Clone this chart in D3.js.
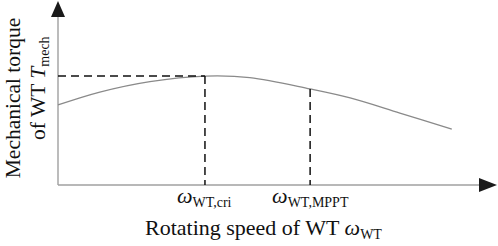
<!DOCTYPE html>
<html>
<head>
<meta charset="utf-8">
<script src="https://cdn.jsdelivr.net/npm/d3@7"></script>
<style>
  html, body { margin: 0; padding: 0; background: #fff; }
  svg { display: block; }
</style>
</head>
<body>
<div id="chart"></div>
<script>
// torque-speed curve of the wind turbine (relative units)
const speed = [0, 9.5, 20.9, 33.4, 43.6, 57.3, 66.4, 77.7, 89.5];
const torque = [43.5, 50.5, 56.2, 59.2, 58.4, 52.2, 47.3, 39.1, 30.4];

// marked operating points
const markNames = ['cri', 'MPPT'];
const markSpeed = [33.4, 57.3];
const markTorque = [59.2, 52.2];

const width = 498, height = 246;
const x0 = 58, yAxis = 185;
const serif = '"Liberation Serif", serif';

const svg = d3.select('#chart').append('svg')
  .attr('width', width)
  .attr('height', height);

const x = d3.scaleLinear().domain([0, 100]).range([x0, 498]);
const y = d3.scaleLinear().domain([0, 100]).range([yAxis, 1]);

// axes with arrow heads
svg.append('line')
  .attr('x1', x0).attr('x2', 484).attr('y1', yAxis).attr('y2', yAxis)
  .attr('stroke', '#a0a0a0').attr('stroke-width', 1.4);
svg.append('line')
  .attr('x1', x0).attr('x2', x0).attr('y1', yAxis).attr('y2', 12)
  .attr('stroke', '#a0a0a0').attr('stroke-width', 1.4);
svg.append('path')
  .attr('d', `M479,178 L497,${yAxis} L479,192 Z`)
  .attr('fill', '#1a1a1a');
svg.append('path')
  .attr('d', `M51,17 L${x0},1 L65,17 Z`)
  .attr('fill', '#1a1a1a');

// curve
const pts = speed.map((s, i) => [s, torque[i]]);
svg.append('path')
  .datum(pts)
  .attr('d', d3.line().x(d => x(d[0])).y(d => y(d[1])).curve(d3.curveCatmullRom))
  .attr('fill', 'none')
  .attr('stroke', '#8a8a8a')
  .attr('stroke-width', 1.3);

// dashed guides
svg.append('line')
  .attr('x1', x0).attr('x2', x(markSpeed[0]))
  .attr('y1', y(markTorque[0])).attr('y2', y(markTorque[0]))
  .attr('stroke', '#111').attr('stroke-width', 1.5).attr('stroke-dasharray', '8,5');
markSpeed.forEach((s, i) => {
  svg.append('line')
    .attr('x1', x(s)).attr('x2', x(s))
    .attr('y1', y(markTorque[i])).attr('y2', yAxis)
    .attr('stroke', '#111').attr('stroke-width', 1.5).attr('stroke-dasharray', '8,5');
});

// helper: text with serif font
function txt(sel) {
  return sel.append('text').style('font-family', serif).attr('fill', '#111');
}

// tick labels
const labDx = [-28, -38];
markNames.forEach((n, i) => {
  const t = txt(svg).attr('x', x(markSpeed[i]) + labDx[i]).attr('y', 203);
  t.append('tspan').style('font-style', 'italic').style('font-size', '22px').text('ω');
  t.append('tspan').style('font-size', '14px').attr('dy', 4).text('WT,' + n);
});

// x title
const xt = txt(svg).attr('x', 145).attr('y', 235);
xt.append('tspan').style('font-size', '22px').text('Rotating speed of WT ');
xt.append('tspan').style('font-size', '22px').style('font-style', 'italic').text('ω');
xt.append('tspan').style('font-size', '14px').attr('dy', 4).text('WT');

// y title, two lines rotated
txt(svg)
  .attr('transform', 'translate(20,98) rotate(-90)')
  .attr('text-anchor', 'middle')
  .style('font-size', '21.5px')
  .text('Mechanical torque');
const yt2 = txt(svg).attr('transform', 'translate(45,140) rotate(-90)');
yt2.append('tspan').style('font-size', '21.5px').text('of WT ');
yt2.append('tspan').style('font-size', '21.5px').style('font-style', 'italic').text('T');
yt2.append('tspan').style('font-size', '14px').attr('dy', 4).text('mech');
</script>
</body>
</html>
